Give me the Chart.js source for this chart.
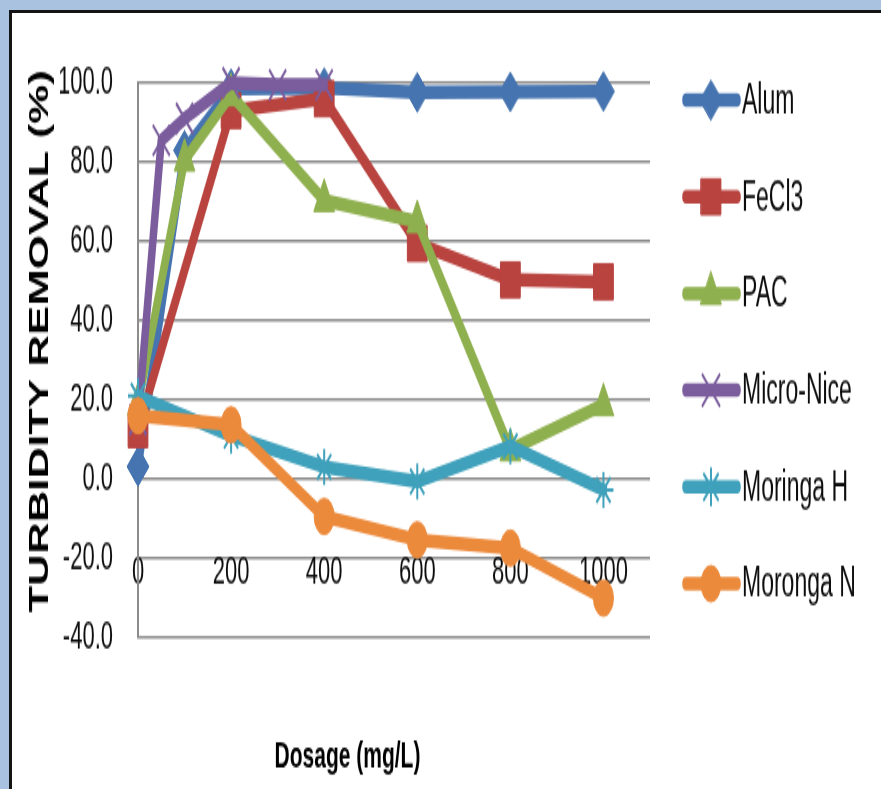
<!DOCTYPE html>
<html>
<head>
<meta charset="utf-8">
<title>Turbidity removal vs dosage</title>
<script src="https://cdn.jsdelivr.net/npm/chart.js@4/dist/chart.umd.min.js"></script>
<style>
  html, body { margin: 0; padding: 0; width: 881px; height: 789px; overflow: hidden; background: #a9c2df; }
  #frame { position: absolute; left: 9px; top: 10px; right: 0; bottom: 0; background: #fff;
           border-left: 3px solid #141414; border-top: 3px solid #141414; }
  /* the chart is laid out on a short canvas and stretched vertically */
  #stage { position: absolute; left: 0; top: 0; width: 881px; height: 438px;
           transform-origin: 0 0; transform: scale(1, 1.8014); }
  canvas { display: block; }
</style>
</head>
<body>
<div id="frame"></div>
<div id="stage"><canvas id="chart" width="881" height="438"></canvas></div>
<script>
// ---- data: dosage (mg/L) and turbidity removal (%) per coagulant ----
const seriesNames = ['Alum', 'FeCl3', 'PAC', 'Micro-Nice', 'Moringa H', 'Moronga N'];

const doseAlum = [0, 100, 200, 400, 600, 800, 1000];
const removalAlum = [3.2, 83, 98.5, 98.8, 97.6, 97.7, 97.8];

const doseFeCl3 = [0, 200, 400, 600, 800, 1000];
const removalFeCl3 = [12.5, 93, 96, 59.5, 50.3, 49.8];

const dosePAC = [0, 100, 200, 400, 600, 800, 1000];
const removalPAC = [19, 80.5, 97, 70.3, 65, 7.4, 18.8];

const doseMicroNice = [0, 50, 100, 200, 300, 400];
const removalMicroNice = [15, 85.5, 91, 100, 99.5, 99.5];

const doseMoringaH = [0, 200, 400, 600, 800, 1000];
const removalMoringaH = [21, 11, 3.1, -0.6, 8.3, -2.7];

const doseMorongaN = [0, 200, 400, 600, 800, 1000];
const removalMorongaN = [16, 13.7, -9.4, -15.3, -17.4, -30];

const xTickValues = [0, 200, 400, 600, 800, 1000];
const yTickMin = -40, yTickMax = 100, yTickStep = 20;

const xTitle = 'Dosage (mg/L)';
const yTitle = 'TURBIDITY REMOVAL (%)';

// ---- styling ----
const seriesColors = ['#4674b0', '#b8433f', '#8fb04e', '#7b5d9d', '#3fa1bb', '#ec8a3c'];
const seriesMarkers = ['rectRot', 'rect', 'triangle', 'crossRot', 'star', 'circle'];
const markerRadii = [11, 14, 12, 12, 10, 10];
const markerBorders = [1, 1, 1, 2, 2, 1];
const tickFont = { family: '"Liberation Sans", Arial, sans-serif', size: 22 };
const gridColor = '#8c8c8c';

const doses = [doseAlum, doseFeCl3, dosePAC, doseMicroNice, doseMoringaH, doseMorongaN];
const removals = [removalAlum, removalFeCl3, removalPAC, removalMicroNice, removalMoringaH, removalMorongaN];

const datasets = seriesNames.map((name, i) => ({
  label: name,
  data: doses[i].map((x, j) => ({ x: x, y: removals[i][j] })),
  showLine: true,
  borderColor: seriesColors[i],
  backgroundColor: seriesColors[i],
  borderWidth: 7.5,
  borderJoinStyle: 'round',
  borderCapStyle: 'round',
  pointStyle: seriesMarkers[i],
  pointRadius: markerRadii[i],
  pointHoverRadius: markerRadii[i],
  pointBackgroundColor: seriesColors[i],
  pointBorderColor: seriesColors[i],
  pointBorderWidth: markerBorders[i],
  order: seriesNames.length - i,   // later series drawn on top
  clip: false
}));

// legend and axis captions drawn on top of the plot
const captions = {
  id: 'captions',
  afterDraw(chart) {
    const ctx = chart.ctx;

    // vertical axis caption
    ctx.save();
    ctx.font = 'bold 28px "Liberation Sans", Arial, sans-serif';
    const w = ctx.measureText(yTitle).width;
    ctx.translate(40, 189.5);
    ctx.rotate(-Math.PI / 2);
    ctx.scale(Math.min(1, 301 / w), 1);
    ctx.fillStyle = '#000';
    ctx.textAlign = 'center';
    ctx.textBaseline = 'middle';
    ctx.fillText(yTitle, 0, 0);
    ctx.restore();

    // horizontal axis caption
    ctx.save();
    ctx.font = 'bold 21px "Liberation Sans", Arial, sans-serif';
    ctx.fillStyle = '#000';
    ctx.textAlign = 'center';
    ctx.textBaseline = 'middle';
    ctx.fillText(xTitle, 347.5, 420);
    ctx.restore();

    // legend: line sample with marker, then the series name
    const legendTop = 55.5, legendStep = 53.7;
    chart.data.datasets.forEach((ds, i) => {
      const y = legendTop + i * legendStep;
      ctx.save();
      ctx.strokeStyle = ds.borderColor;
      ctx.lineWidth = 7.5;
      ctx.lineCap = 'round';
      ctx.beginPath();
      ctx.moveTo(686, y);
      ctx.lineTo(737, y);
      ctx.stroke();
      ctx.fillStyle = ds.pointBackgroundColor;
      ctx.strokeStyle = ds.pointBorderColor;
      ctx.lineWidth = ds.pointBorderWidth;
      Chart.helpers.drawPoint(ctx, {
        pointStyle: ds.pointStyle, radius: ds.pointRadius, rotation: 0, borderWidth: ds.pointBorderWidth
      }, 711, y);
      ctx.font = '23px "Liberation Sans", Arial, sans-serif';
      ctx.fillStyle = '#0d0d0d';
      ctx.textAlign = 'left';
      ctx.textBaseline = 'middle';
      ctx.fillText(ds.label, 742, y + 1);
      ctx.restore();
    });
  }
};

new Chart(document.getElementById('chart'), {
  type: 'scatter',
  data: { datasets: datasets },
  options: {
    responsive: false,
    maintainAspectRatio: false,
    animation: false,
    events: [],
    layout: { padding: { left: 60, top: 46, right: 231, bottom: 84 } },
    plugins: { legend: { display: false }, tooltip: { enabled: false }, title: { display: false } },
    scales: {
      x: {
        type: 'linear',
        position: { y: -20 },
        min: 0,
        max: 1100,
        afterBuildTicks(scale) { scale.ticks = xTickValues.map(v => ({ value: v })); },
        grid: { display: false },
        border: { display: false },
        ticks: {
          font: tickFont,
          color: '#0d0d0d',
          padding: -13,
          maxRotation: 0,
          autoSkip: false,
          callback: v => String(v)
        }
      },
      y: {
        type: 'linear',
        min: yTickMin,
        max: yTickMax,
        afterFit(scale) { scale.width = 78; },
        grid: { color: gridColor, lineWidth: 1.6, drawTicks: false },
        border: { display: true, color: gridColor, width: 2 },
        ticks: {
          stepSize: yTickStep,
          font: tickFont,
          color: '#0d0d0d',
          padding: 25,
          callback: v => v.toFixed(1)
        }
      }
    }
  },
  plugins: [captions]
});
</script>
</body>
</html>
